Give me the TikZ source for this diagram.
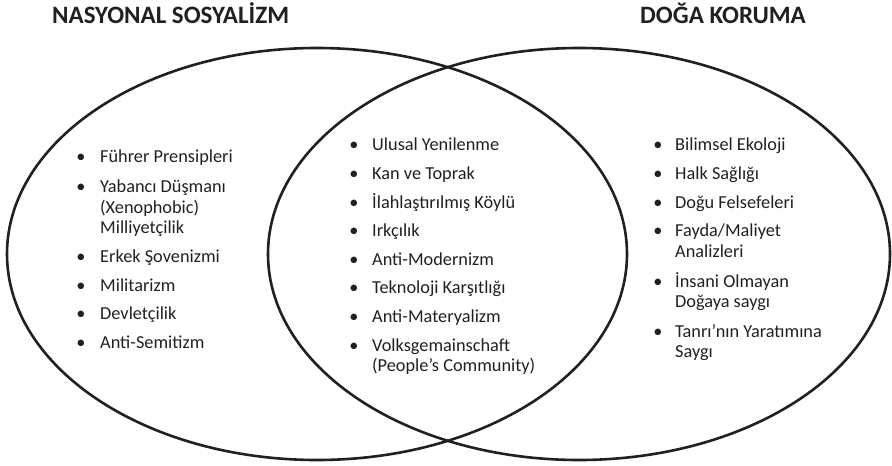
\documentclass[tikz,border=0pt]{standalone}
\usepackage{fontspec}
\setmainfont{Carlito}
\definecolor{ink}{HTML}{231F20}
\begin{document}
\begin{tikzpicture}[x=1pt,y=-1pt,
  lbl/.style={anchor=base west, inner sep=0pt, font=\fontsize{18.3}{20.5}\selectfont, text=ink},
  bul/.style={anchor=base, inner sep=0pt, font=\fontsize{18.3}{20.5}\selectfont, text=ink},
  ttl/.style={anchor=base west, inner sep=0pt, font=\bfseries\fontsize{25}{30}\selectfont, text=ink},
  ring/.style={draw=ink, line width=2.6pt}]
\useasboundingbox (0,0) rectangle (892,466);
% circles
\draw[ring] (317,254) ellipse [x radius=310pt, y radius=206pt];
\draw[ring] (579,254) ellipse [x radius=311pt, y radius=206pt];
% titles
\node[ttl] (t1) at (52,23) {NASYONAL SOSYALİZM};
\node[ttl] (t2) at (640,23) {DOĞA KORUMA};
% left list
\foreach \y/\n in {162/a1,192.7/a2,262/a3,291/a4,319/a5,348/a6}{\node[bul] (b\n) at (81,\y) {•};}
\node[lbl] (a1) at (100,162) {Führer Prensipleri};
\node[lbl] (a2) at (100,192.7) {Yabancı Düşmanı};
\node[lbl] (a2b) at (100,213) {(Xenophobic)};
\node[lbl] (a2c) at (100,233.3) {Milliyetçilik};
\node[lbl] (a3) at (100,262) {Erkek Şovenizmi};
\node[lbl] (a4) at (100,291) {Militarizm};
\node[lbl] (a5) at (100,319) {Devletçilik};
\node[lbl] (a6) at (100,348) {Anti-Semitizm};
% middle list
\foreach \y/\n in {150/m1,179/m2,208/m3,236/m4,265/m5,293/m6,322/m7,351/m8}{\node[bul] (b\n) at (354,\y) {•};}
\node[lbl] (m1) at (372,150) {Ulusal Yenilenme};
\node[lbl] (m2) at (372,179) {Kan ve Toprak};
\node[lbl] (m3) at (372,208) {İlahlaştırılmış Köylü};
\node[lbl] (m4) at (372,236) {Irkçılık};
\node[lbl] (m5) at (372,265) {Anti-Modernizm};
\node[lbl] (m6) at (372,293) {Teknoloji Karşıtlığı};
\node[lbl] (m7) at (372,322) {Anti-Materyalizm};
\node[lbl] (m8) at (372,351) {Volksgemainschaft};
\node[lbl] (m8b) at (372,371) {(People’s Community)};
% right list
\foreach \y/\n in {150/r1,179/r2,208/r3,236/r4,287/r5,337/r6}{\node[bul] (b\n) at (658,\y) {•};}
\node[lbl] (r1) at (675,150) {Bilimsel Ekoloji};
\node[lbl] (r2) at (675,179) {Halk Sağlığı};
\node[lbl] (r3) at (675,208) {Doğu Felsefeleri};
\node[lbl] (r4) at (675,236) {Fayda/Maliyet};
\node[lbl] (r4b) at (675,257) {Analizleri};
\node[lbl] (r5) at (675,287) {İnsani Olmayan};
\node[lbl] (r5b) at (675,307) {Doğaya saygı};
\node[lbl] (r6) at (675,337) {Tanrı’nın Yaratımına};
\node[lbl] (r6b) at (675,357) {Saygı};
\end{tikzpicture}
\end{document}
